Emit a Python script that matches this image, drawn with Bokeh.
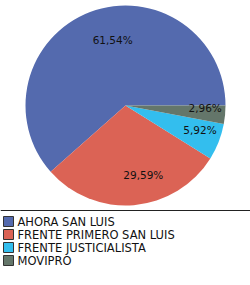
import math
from bokeh.plotting import figure
from bokeh.models import Range1d, ColumnDataSource
from bokeh.core.properties import value
from bokeh.embed import file_html
from bokeh.resources import INLINE

categories = ["AHORA SAN LUIS", "FRENTE PRIMERO SAN LUIS", "FRENTE JUSTICIALISTA", "MOVIPRO"]
shares = [61.54, 29.59, 5.92, 2.96]
labels = ["61,54%", "29,59%", "5,92%", "2,96%"]
colors = ["#546AAE", "#DB6355", "#33BEEE", "#64766A"]

W, H = 250, 285
CX, CY, R = 125, 285 - 105, 100

p = figure(width=W, height=H, output_backend="svg", toolbar_location=None,
           x_range=Range1d(0, W), y_range=Range1d(0, H), min_border=0)
p.axis.visible = False
p.grid.visible = False
p.outline_line_color = None
p.background_fill_color = "white"
p.border_fill_color = "white"

total = sum(shares)
starts, ends, lx, ly, dx, dy = [], [], [], [], [], []
acc = 0.0
for s in shares:
    a0 = acc / total * 2 * math.pi
    acc += s
    a1 = acc / total * 2 * math.pi
    starts.append(a0)
    ends.append(a1)
    mid = (a0 + a1) / 2
    big = s > 10
    rr = 0.70 if big else 0.80
    lx.append(CX + rr * R * math.cos(mid))
    ly.append(CY + rr * R * math.sin(mid))
    dx.append(12 if big else 0)
    dy.append(0 if big else -5)

src = ColumnDataSource(dict(start=starts, end=ends, color=colors, lx=lx, ly=ly,
                            dx=dx, dy=dy, label=labels))
p.wedge(x=CX, y=CY, radius=R, start_angle="start", end_angle="end",
        fill_color="color", line_color=None, source=src)
p.text(x="lx", y="ly", text="label", x_offset="dx", y_offset="dy", source=src,
       text_font=value("DejaVu Sans"), text_font_size="10.5px", text_align="center",
       text_baseline="middle", text_color="#111111")

# separator line
p.segment(x0=0, y0=H - 210, x1=W, y1=H - 210, line_color="#222222", line_width=1)

# legend
rows_y = [H - (221 + 13 * i) for i in range(len(categories))]
p.rect(x=[8] * len(categories), y=rows_y, width=10, height=10, fill_color=colors,
       line_color="#333333", line_width=1)
p.text(x=[17] * len(categories), y=rows_y, text=categories, text_font=value("DejaVu Sans"),
       text_font_size="11.5px", text_align="left", text_baseline="middle", text_color="#111111")

open("out.html", "w").write(file_html(p, INLINE))
